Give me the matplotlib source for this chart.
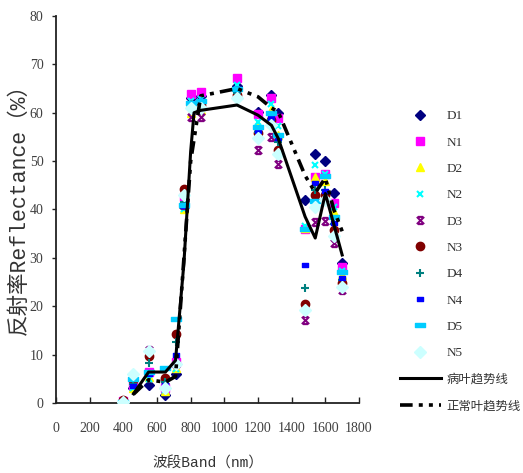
import matplotlib
matplotlib.use("Agg")
import matplotlib.pyplot as plt
from matplotlib.path import Path

bands = [400, 460, 550, 650, 710, 760, 800, 860, 1075, 1200, 1280, 1320, 1480, 1540, 1600, 1650, 1700]

D1 = [0.2, 3.1, 3.7, 1.7, 6.0, 40.5, 63.0, 63.4, 65.5, 60.2, 63.7, 59.9, 42.0, 51.5, 50.1, 43.4, 28.9]
N1 = [0.4, 3.7, 6.4, 3.0, 8.5, 42.5, 63.8, 64.2, 67.2, 59.8, 63.1, 58.9, 36.0, 46.8, 47.4, 41.3, 28.2]
D2 = [0.3, 3.2, 5.4, 2.5, 7.3, 40.0, 60.0, 60.5, 64.5, 57.5, 60.5, 55.3, 36.2, 46.7, 45.8, 39.5, 26.5]
N2 = [0.3, 3.0, 5.0, 2.7, 7.0, 40.2, 62.5, 62.8, 65.8, 58.0, 61.8, 57.2, 36.6, 49.2, 47.4, 40.5, 27.2]
D3 = [0.5, 4.2, 11.0, 3.5, 8.0, 41.0, 59.2, 59.2, 64.5, 52.4, 55.0, 49.5, 17.1, 37.4, 37.7, 33.0, 23.3]
N3 = [0.7, 4.8, 9.7, 5.2, 14.2, 44.2, 61.5, 61.7, 63.7, 55.8, 58.5, 52.3, 20.5, 42.9, 43.0, 35.7, 24.8]
D4 = [0.3, 4.0, 8.3, 4.4, 12.7, 41.5, 61.0, 61.0, 64.0, 56.0, 58.5, 54.0, 23.8, 44.1, 44.0, 37.0, 25.5]
N4 = [0.3, 3.5, 6.0, 3.7, 10.0, 40.8, 61.8, 62.4, 65.0, 56.2, 59.0, 54.8, 28.6, 45.4, 43.8, 37.2, 25.8]
D5 = [0.3, 5.0, 6.5, 7.2, 17.3, 41.0, 62.0, 62.5, 65.0, 57.0, 60.0, 55.5, 36.0, 41.8, 47.0, 38.5, 27.0]
N5 = [0.3, 6.0, 10.8, 3.0, 8.0, 43.0, 61.0, 61.0, 63.0, 54.7, 57.5, 51.5, 19.2, 40.5, 42.0, 34.5, 24.0]

series_names = ["D1", "N1", "D2", "N2", "D3", "N3", "D4", "N4", "D5", "N5"]

diseased_x = [460, 550, 650, 710, 760, 800, 820, 860, 1075, 1200, 1280, 1320, 1480, 1540, 1600, 1700]
diseased_y = [1.9, 6.4, 6.4, 8.8, 29.0, 52.0, 60.0, 60.5, 61.6, 59.5, 57.4, 54.7, 38.5, 34.1, 43.3, 30.6]

normal_x = [460, 550, 650, 710, 760, 800, 860, 1075, 1200, 1280, 1320, 1480, 1540, 1600, 1650, 1700]
normal_y = [1.8, 4.8, 4.3, 5.5, 30.0, 50.0, 63.5, 65.0, 63.3, 61.0, 60.2, 47.0, 43.5, 46.5, 40.0, 35.5]

trend_labels = ["病叶趋势线", "正常叶趋势线"]

star = Path([(-1, -1), (1, 1), (-1, 1), (1, -1), (-0.7, 1), (0.7, 1), (-0.7, -1), (0.7, -1)],
            [Path.MOVETO, Path.LINETO, Path.MOVETO, Path.LINETO,
             Path.MOVETO, Path.LINETO, Path.MOVETO, Path.LINETO])
small_dash = Path([(-1, -0.6), (1, -0.6), (1, 0.6), (-1, 0.6), (-1, -0.6)],
                  [Path.MOVETO, Path.LINETO, Path.LINETO, Path.LINETO, Path.CLOSEPOLY])
long_dash = Path([(-1, -0.35), (1, -0.35), (1, 0.35), (-1, 0.35), (-1, -0.35)],
                 [Path.MOVETO, Path.LINETO, Path.LINETO, Path.LINETO, Path.CLOSEPOLY])

styles = {
    "D1": dict(marker="D", color="#000080", ms=5.2, mec="#000080"),
    "N1": dict(marker="s", color="#FF00FF", ms=5.5, mec="#FF00FF"),
    "D2": dict(marker="^", color="#FFFF00", ms=6.2, mec="#FFFF00"),
    "N2": dict(marker="x", color="#00FFFF", ms=5, mew=1.5),
    "D3": dict(marker=star, color="#800080", ms=5.2, mew=1.5),
    "N3": dict(marker="o", color="#800000", ms=6, mec="#800000"),
    "D4": dict(marker="+", color="#008080", ms=6, mew=1.5),
    "N4": dict(marker=small_dash, color="#0000FF", ms=4, mec="#0000FF"),
    "D5": dict(marker=long_dash, color="#00CCFF", ms=7.5, mec="#00CCFF"),
    "N5": dict(marker="D", color="#CCFFFF", ms=5.8, mec="#CCFFFF"),
}

data = {"D1": D1, "N1": N1, "D2": D2, "N2": N2, "D3": D3,
        "N3": N3, "D4": D4, "N4": N4, "D5": D5, "N5": N5}

fig = plt.figure(figsize=(5.23, 4.73), dpi=100)
ax = fig.add_axes([56 / 523, 70 / 473, 303 / 523, 387 / 473])

handles = []
for name in series_names:
    st = styles[name]
    h, = ax.plot(bands, data[name], linestyle="none", label=name, zorder=3, **st)
    handles.append(h)

dash_style = (0, (3.5, 1.7, 1.1, 1.7, 1.1, 1.7))
h1, = ax.plot(diseased_x, diseased_y, color="black", lw=2.2, zorder=4, label=trend_labels[0])
h2, = ax.plot(normal_x, normal_y, color="black", lw=2.6, linestyle=dash_style,
              dash_capstyle="butt", zorder=4, label=trend_labels[1])
handles += [h1, h2]

ax.set_xlim(0, 1800)
ax.set_ylim(0, 80)
ax.set_xticks(range(0, 1801, 200))
ax.set_yticks(range(0, 81, 10))
for s in ["top", "right"]:
    ax.spines[s].set_visible(False)
for s in ["left", "bottom"]:
    ax.spines[s].set_linewidth(1.3)
    ax.spines[s].set_color("#222222")
ax.tick_params(axis="x", direction="in", length=4, width=1, colors="#222222",
               labelcolor="#404040", labelsize=10, pad=14)
ax.tick_params(axis="y", direction="out", length=3, width=1, colors="#222222",
               labelcolor="#404040", labelsize=10, pad=6)
for lab in ax.get_xticklabels() + ax.get_yticklabels():
    lab.set_family("Liberation Serif")

label_family = ["Liberation Mono", "Noto Sans CJK SC"]
ax.set_xlabel("波段Band（nm）", family=label_family, fontsize=10.5,
              color="#333333", labelpad=15)
ax.set_ylabel("反射率Reflectance（%）", family=label_family, fontsize=15.5,
              color="#333333", labelpad=5)
ax.yaxis.set_label_coords(-0.088, 0.515)

leg = fig.legend(handles=handles, loc="upper left",
                 bbox_to_anchor=(400 / 523, (473 - 110) / 473),
                 frameon=False, handlelength=3.1, handletextpad=0.45,
                 labelspacing=1.07, borderaxespad=0, borderpad=0,
                 prop={"family": ["Liberation Serif", "Noto Sans CJK SC"], "size": 9.5})
for t in leg.get_texts():
    t.set_color("#333333")
    if t.get_text() in trend_labels:
        t.set_fontsize(8.9)

fig.savefig("out.png", dpi=100)
